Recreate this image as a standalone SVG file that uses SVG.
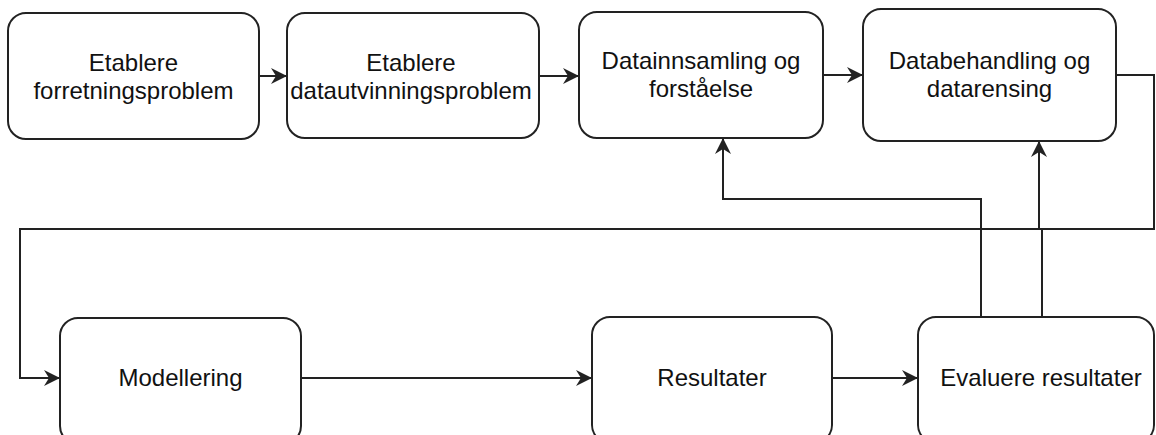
<svg xmlns="http://www.w3.org/2000/svg" width="1156" height="435" viewBox="0 0 1156 435">
  <defs>
    <marker id="arrow" markerUnits="userSpaceOnUse" markerWidth="18" markerHeight="18" viewBox="0 0 18 18" refX="16" refY="9" orient="auto">
      <path d="M0,1 L16,9 L0,17 L5,9 Z" fill="#222"/>
    </marker>
    <style>
      .box { fill: #ffffff; stroke: #222; stroke-width: 2; }
      .label { font-family: "Liberation Sans", Arial, sans-serif; font-size: 24px; fill: #111; text-anchor: middle; }
      .edge { fill: none; stroke: #222; stroke-width: 2; }
      .arrowed { marker-end: url(#arrow); }
    </style>
  </defs>

  <rect width="1156" height="435" fill="#ffffff"/>

  <!-- connectors -->
  <g id="connectors">
    <path class="edge arrowed" d="M259,76 H287"/>
    <path class="edge arrowed" d="M539,76 H579"/>
    <path class="edge arrowed" d="M823,75 H863"/>
    <path class="edge arrowed" d="M1116,75 H1154 V229 H20 V378 H60"/>
    <path class="edge arrowed" d="M301,378 H592"/>
    <path class="edge arrowed" d="M832,378 H918"/>
    <path class="edge arrowed" d="M981,317 V199 H723 V138"/>
    <path class="edge arrowed" d="M1042,317 V229 H1039 V141"/>
  </g>

  <!-- top row -->
  <g id="node-forretningsproblem">
    <rect class="box" x="8" y="13" width="251" height="126" rx="18" ry="18"/>
    <text class="label" x="133.5" y="71">Etablere</text>
    <text class="label" x="133.5" y="99">forretningsproblem</text>
  </g>

  <g id="node-datautvinningsproblem">
    <rect class="box" x="287" y="13" width="252" height="125" rx="18" ry="18"/>
    <text class="label" x="411" y="71">Etablere</text>
    <text class="label" x="411" y="99">datautvinningsproblem</text>
  </g>

  <g id="node-datainnsamling">
    <rect class="box" x="579" y="12" width="244" height="126" rx="18" ry="18"/>
    <text class="label" x="701" y="69">Datainnsamling og</text>
    <text class="label" x="701" y="97">forståelse</text>
  </g>

  <g id="node-databehandling">
    <rect class="box" x="863" y="9" width="253" height="132" rx="18" ry="18"/>
    <text class="label" x="989.5" y="69">Databehandling og</text>
    <text class="label" x="989.5" y="97">datarensing</text>
  </g>

  <!-- bottom row -->
  <g id="node-modellering">
    <rect class="box" x="60" y="318" width="241" height="126" rx="18" ry="18"/>
    <text class="label" x="180.5" y="386">Modellering</text>
  </g>

  <g id="node-resultater">
    <rect class="box" x="592" y="317" width="240" height="126" rx="18" ry="18"/>
    <text class="label" x="712" y="386">Resultater</text>
  </g>

  <g id="node-evaluere">
    <rect class="box" x="918" y="317" width="236" height="126" rx="18" ry="18"/>
    <text class="label" x="1041" y="386">Evaluere resultater</text>
  </g>
</svg>
